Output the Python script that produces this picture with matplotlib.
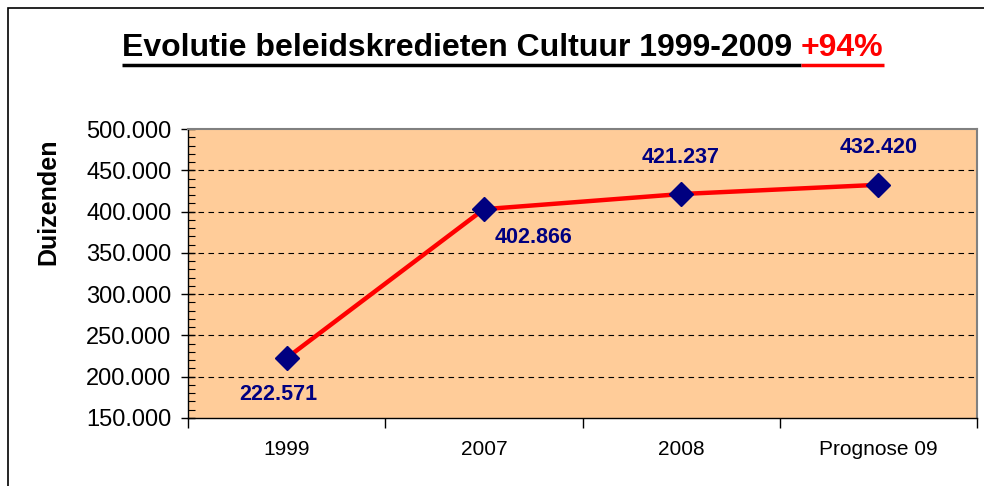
import matplotlib
matplotlib.use("Agg")
import matplotlib.pyplot as plt
from matplotlib.patches import Rectangle
from matplotlib.lines import Line2D
from matplotlib.ticker import MultipleLocator, FuncFormatter

categories = ["1999", "2007", "2008", "Prognose 09"]
values = [222571, 402866, 421237, 432420]
value_labels = ["222.571", "402.866", "421.237", "432.420"]
title_main = "Evolutie beleidskredieten Cultuur 1999-2009 "
title_pct = "+94%"
ylabel = "Duizenden"

plt.rcParams['font.family'] = ['Liberation Sans', 'DejaVu Sans']

W, H = 984, 486
fig = plt.figure(figsize=(W / 100, H / 100), dpi=100)
fig.patch.set_facecolor('white')

# outer frame (cropped)
fig.add_artist(Rectangle((8 / W, -0.1), 1.2, 1.1 - 8 / H, transform=fig.transFigure,
                         fill=False, edgecolor='black', linewidth=1.2))

left, right, top, bottom = 188, 977, 129, 418
ax = fig.add_axes([left / W, 1 - bottom / H, (right - left) / W, (bottom - top) / H])
ax.set_facecolor('#FFCC99')

x = list(range(len(categories)))
ax.plot(x, values, color='#FF0000', linewidth=3.2, zorder=3)
ax.plot(x, values, linestyle='none', marker='D', markersize=12.5,
        markerfacecolor='#000080', markeredgecolor='#000080', zorder=4)

ax.set_xlim(-0.5, len(categories) - 0.5)
ax.set_ylim(150000, 500000)

# gridlines
for yv in range(200000, 500000, 50000):
    ax.axhline(yv, color='black', linestyle=(0, (5, 4)), linewidth=0.8, zorder=1)

ax.yaxis.set_major_locator(MultipleLocator(50000))
ax.yaxis.set_minor_locator(MultipleLocator(10000))
ax.yaxis.set_major_formatter(FuncFormatter(lambda v, p: f"{int(v):,}".replace(",", ".")))
ax.tick_params(axis='y', which='major', direction='inout', length=10, width=1,
               labelsize=17, pad=7)
ax.tick_params(axis='y', which='minor', direction='in', length=5, width=0.8)

ax.set_xticks(x)
ax.set_xticklabels(categories)
ax.set_xticks([i - 0.5 for i in range(len(categories) + 1)], minor=True)
ax.tick_params(axis='x', which='major', length=0, labelsize=15, pad=16)
ax.tick_params(axis='x', which='minor', direction='out', length=7, width=1)

for s in ['top', 'right']:
    ax.spines[s].set_color('#808080')
    ax.spines[s].set_linewidth(1.5)
for s in ['left', 'bottom']:
    ax.spines[s].set_color('black')
    ax.spines[s].set_linewidth(1)

# data labels
offsets = [(-0.04, -19, 'top'), (0.25, -13, 'top'), (0, 19, 'bottom'), (0, 19, 'bottom')]
for i, (v, lab) in enumerate(zip(values, value_labels)):
    dx, dy, va = offsets[i]
    ax.annotate(lab, (i + dx, v), xytext=(0, dy), textcoords='offset points',
                ha='center', va=va, fontsize=15.5, fontweight='bold', color='#000080')

# y label
fig.text(48 / W, 1 - 202 / H, ylabel, rotation=90, ha='center', va='center',
         fontsize=18, fontweight='bold')

# title with underline
ty = 1 - 48 / H
t1 = fig.text(122 / W, ty, title_main, ha='left', va='center', fontsize=23, fontweight='bold', color='black')
fig.canvas.draw()
r = fig.canvas.get_renderer()
bb1 = t1.get_window_extent(r)
x2 = bb1.x1 / W
t2 = fig.text(x2, ty, title_pct, ha='left', va='center', fontsize=23, fontweight='bold', color='#FF0000')
bb2 = t2.get_window_extent(r)
uy = 1 - 65 / H
fig.add_artist(Line2D([bb1.x0 / W, bb1.x1 / W], [uy, uy], transform=fig.transFigure,
                      color='black', linewidth=2.5, solid_capstyle='butt'))
fig.add_artist(Line2D([bb2.x0 / W, bb2.x1 / W], [uy, uy], transform=fig.transFigure,
                      color='#FF0000', linewidth=2.5, solid_capstyle='butt'))

fig.savefig("out.png", dpi=100)
